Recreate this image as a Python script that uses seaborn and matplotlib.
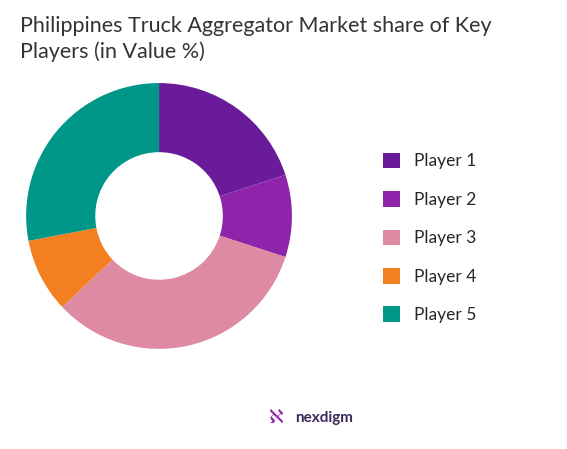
import matplotlib
matplotlib.use("Agg")
import matplotlib.pyplot as plt
import seaborn as sns

players = ["Player 1", "Player 2", "Player 3", "Player 4", "Player 5"]
shares = [20, 10, 33, 9, 28]
colors = ["#6A1B9A", "#8E24AA", "#DE8AA3", "#F47F20", "#009688"]

sns.set_theme(style="white")
plt.rcParams['font.family'] = ['Lato', 'DejaVu Sans']

fig = plt.figure(figsize=(5.67, 4.49), dpi=100)
ax = fig.add_axes([0.046, 0.223, 0.469, 0.592])
wedges, _ = ax.pie(shares, colors=colors, startangle=90, counterclock=False,
                   wedgeprops=dict(width=0.52, edgecolor="none"))
ax.set_xlim(-1, 1)
ax.set_ylim(-1, 1)
ax.set_aspect("equal")

fig.text(0.035, 0.965, "Philippines Truck Aggregator Market share of Key\nPlayers (in Value %)",
         fontsize=15.5, va="top", ha="left", color="#333333", linespacing=1.35)

fig.legend(wedges, players, loc="center left", bbox_to_anchor=(0.648, 0.47),
           frameon=False, fontsize=12.5, handlelength=1.0, handleheight=1.0,
           labelspacing=1.25, handletextpad=0.8)

fig.text(0.52, 0.07, "nexdigm", fontsize=11, ha="left", va="center",
         color="#3a2a5a", fontweight="bold")
fig.text(0.475, 0.07, "\u2135", fontsize=14, ha="left", va="center", color="#8E24AA")

fig.savefig("out.png", dpi=100)
